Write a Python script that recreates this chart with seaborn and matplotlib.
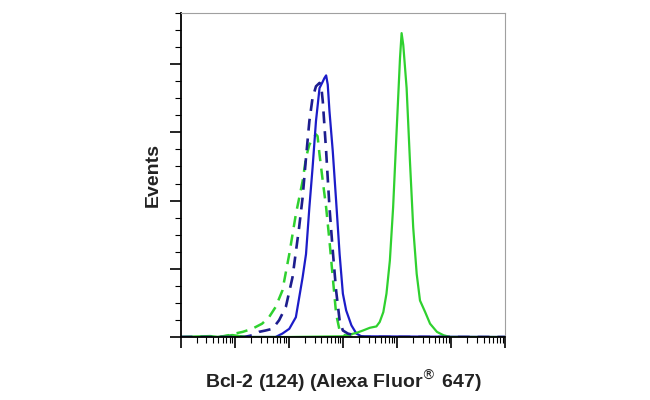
import pandas as pd
import matplotlib
matplotlib.use("Agg")
import matplotlib.pyplot as plt
import seaborn as sns
from matplotlib.ticker import MultipleLocator, LogLocator, NullFormatter

# fluorescence intensity (x) and event counts (y)
green_x = [1, 3.5, 5, 9, 12, 20, 100, 1000, 1320, 1780, 2350, 3150, 4170, 4800, 5600, 6400,
           7400, 8500, 9800, 11400, 12200, 13100, 15100, 17400, 20000, 23200,
           26700, 33300, 41000, 55000, 73000, 97000, 1000000]
green_y = [0, 0.3, 0, 0.6, 0.3, 0, 0, 0.2, 0.7, 1.2, 1.9, 2.7, 3.1, 4.4, 7.3, 12.7,
           22.4, 38.0, 59.4, 81.8, 89.1, 85.6, 73.0, 51.6, 32.1, 18.5,
           10.7, 7.3, 3.9, 1.5, 0.5, 0, 0]

blue_x = [1, 57, 76, 102, 135, 180, 208, 240, 275, 318, 370, 425, 455, 490, 525,
          565, 650, 750, 870, 1000, 1150, 1440, 1780, 2200, 1000000]
blue_y = [0, 0, 1.0, 2.4, 5.8, 17.5, 24.3, 38.0, 49.6, 63.3, 73.0, 74.9, 75.9, 76.7, 74.0,
          66.2, 54.5, 39.9, 24.3, 12.7, 7.8, 3.4, 1.0, 0.2, 0]

blue_ctrl_x = [1, 15, 21, 28, 37, 50, 66, 88, 117, 155, 180, 208, 240, 275, 318, 370,
               395, 425, 490, 565, 650, 750, 870, 1000, 1240, 1650, 2500, 1000000]
blue_ctrl_y = [0, 0, 0.5, 1.5, 1.9, 2.4, 4.9, 8.8, 17.5, 32.1, 40.9, 52.6, 63.3, 70.1, 73.5, 74.5,
               74.0, 69.1, 54.5, 38.0, 25.3, 13.6, 4.9, 1.9, 1.0, 0.5, 0, 0]

green_ctrl_x = [1, 5, 7.7, 10, 14, 21, 32, 43, 57, 76, 102, 135, 180, 208, 240, 275, 318,
                340, 370, 425, 490, 565, 650, 750, 870, 1070, 1500]
green_ctrl_y = [0, 0, 0.5, 1.0, 1.5, 2.4, 3.9, 5.8, 8.8, 13.6, 24.3, 36.0, 45.7, 52.6, 56.4, 57.9, 59.4,
                58.9, 53.5, 45.7, 38.0, 28.2, 17.5, 6.8, 1.9, 0.5, 0]

sns.set_style("white")
plt.rcParams['font.family'] = ['Liberation Sans Narrow', 'Liberation Sans', 'DejaVu Sans']

fig = plt.figure(figsize=(6.5, 4), dpi=100)
ax = fig.add_axes([0.278, 0.1575, 0.499, 0.81])

green = "#2fd12f"
blue = "#1c1cc8"
navy = "#1d1d8e"
dash = (0, (4.5, 3))

sns.lineplot(x=green_ctrl_x, y=green_ctrl_y, ax=ax, color=green, lw=1.8,
             sort=False, estimator=None, linestyle=dash)
sns.lineplot(x=blue_x, y=blue_y, ax=ax, color=blue, lw=1.6, sort=False, estimator=None)
sns.lineplot(x=green_x, y=green_y, ax=ax, color=green, lw=1.6, sort=False, estimator=None)
sns.lineplot(x=blue_ctrl_x, y=blue_ctrl_y, ax=ax, color=navy, lw=1.9,
             sort=False, estimator=None, linestyle=dash)

ax.set_xscale("log")
ax.set_xlim(1, 1e6)
ax.set_ylim(0, 95)

ax.xaxis.set_major_locator(LogLocator(base=10, numticks=10))
ax.xaxis.set_minor_locator(LogLocator(base=10, subs=range(2, 10), numticks=100))
ax.xaxis.set_major_formatter(NullFormatter())
ax.xaxis.set_minor_formatter(NullFormatter())
ax.yaxis.set_major_locator(MultipleLocator(20))
ax.yaxis.set_minor_locator(MultipleLocator(5))
ax.yaxis.set_major_formatter(NullFormatter())

ax.tick_params(which="major", direction="out", length=8, width=1.2, color="black",
               bottom=True, left=True)
ax.tick_params(which="minor", direction="out", length=4, width=0.8, color="black",
               bottom=True, left=True)

for side in ["left", "bottom"]:
    ax.spines[side].set_color("black")
    ax.spines[side].set_linewidth(1.3)
for side in ["top", "right"]:
    ax.spines[side].set_color("#a0a0a0")
    ax.spines[side].set_linewidth(0.8)

ax.set_xlabel("Bcl-2 (124) (Alexa Fluor$^{\u00ae}$ 647)", fontsize=14, fontweight="bold",
              labelpad=11, color="#222222")
ax.set_ylabel("Events", fontsize=14, fontweight="bold", labelpad=2, color="#222222")

fig.savefig("out.png", dpi=100)
